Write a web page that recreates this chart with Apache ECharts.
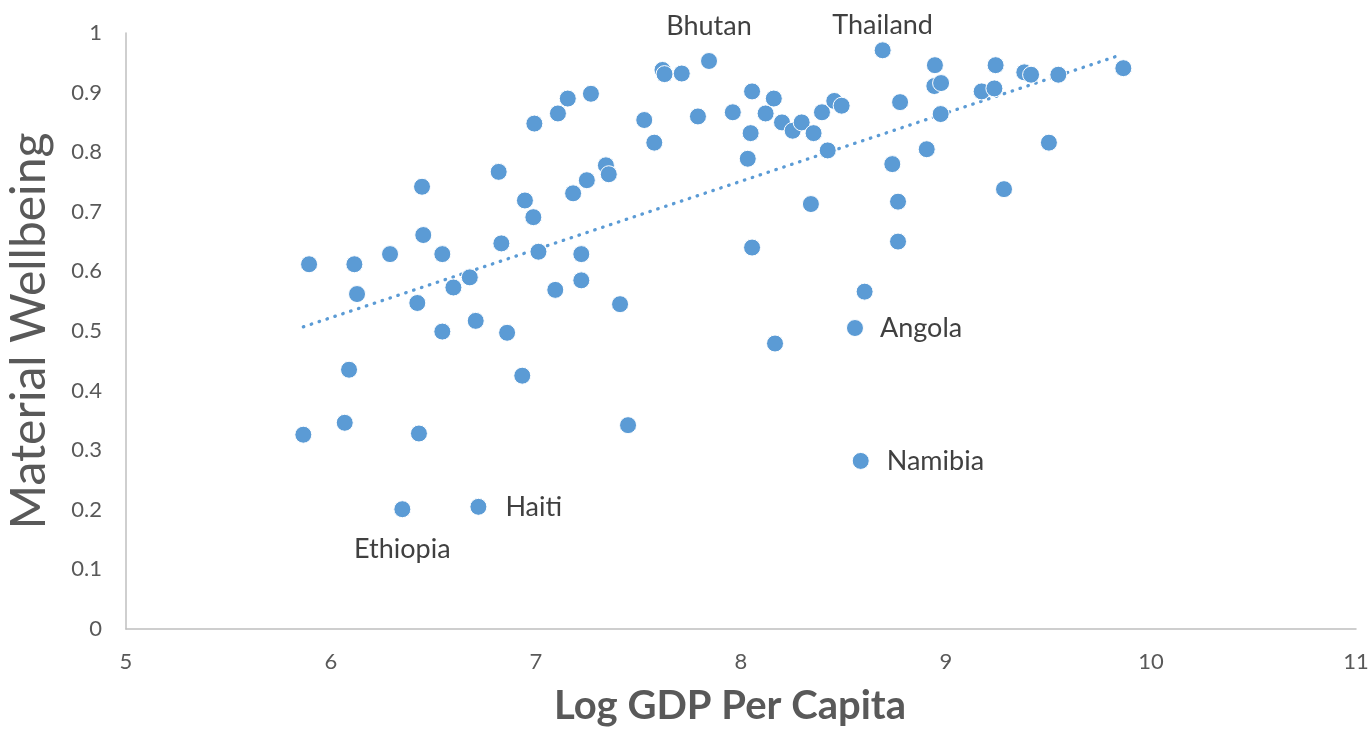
<!DOCTYPE html>
<html>
<head>
<meta charset="utf-8">
<script src="https://cdn.jsdelivr.net/npm/echarts@6/dist/echarts.min.js"></script>
<style>
html,body{margin:0;padding:0;background:#fff;overflow:hidden;}
#chart{width:1372px;height:729px;}
</style>
</head>
<body>
<div id="chart"></div>
<script>
// Log GDP per capita (x) and material wellbeing (y) for each country point
const logGdp = [
  5.865, 5.893, 6.067, 6.088, 6.114, 6.127, 6.288, 6.348, 6.421, 6.429,
  6.444, 6.450, 6.543, 6.543, 6.597, 6.677, 6.706, 6.719, 6.818, 6.831,
  6.859, 6.933, 6.946, 6.987, 6.992, 7.012, 7.094, 7.107, 7.155, 7.181,
  7.221, 7.221, 7.248, 7.268, 7.341, 7.355, 7.410, 7.449, 7.528, 7.577,
  7.617, 7.627, 7.711, 7.790, 7.844, 7.960, 8.033, 8.047, 8.054, 8.054,
  8.120, 8.160, 8.166, 8.200, 8.252, 8.296, 8.341, 8.354, 8.395, 8.423,
  8.455, 8.491, 8.556, 8.584, 8.603, 8.691, 8.738, 8.766, 8.766, 8.776,
  8.906, 8.946, 8.943, 8.976, 8.974, 9.174, 9.236, 9.242, 9.283, 9.382,
  9.415, 9.502, 9.548, 9.865
];
const wellbeing = [
  0.326, 0.612, 0.346, 0.435, 0.612, 0.562, 0.629, 0.201, 0.547, 0.328,
  0.742, 0.661, 0.499, 0.629, 0.573, 0.590, 0.517, 0.205, 0.767, 0.647,
  0.497, 0.425, 0.719, 0.691, 0.848, 0.633, 0.569, 0.865, 0.890, 0.731,
  0.629, 0.585, 0.753, 0.898, 0.778, 0.763, 0.545, 0.342, 0.854, 0.816,
  0.938, 0.931, 0.932, 0.860, 0.953, 0.867, 0.789, 0.832, 0.902, 0.640,
  0.865, 0.890, 0.479, 0.850, 0.836, 0.850, 0.713, 0.832, 0.867, 0.803,
  0.886, 0.878, 0.505, 0.282, 0.566, 0.971, 0.780, 0.650, 0.717, 0.884,
  0.805, 0.946, 0.911, 0.916, 0.864, 0.902, 0.907, 0.946, 0.738, 0.934,
  0.930, 0.816, 0.930, 0.941
];
// Named countries: index into the arrays above
const labelledNames = ['Ethiopia', 'Haiti', 'Bhutan', 'Angola', 'Namibia', 'Thailand'];
const labelledIndex = [7, 17, 44, 62, 63, 65];
// Linear trendline end points (x, y)
const trendX = [5.865, 9.850];
const trendY = [0.507, 0.963];
// Axis ranges
const xRange = [5, 11, 1];
const yRange = [0, 1, 0.1];

const labelStyle = {
  Ethiopia: {position: 'bottom', distance: 18},
  Haiti:    {position: 'right',  distance: 18},
  Bhutan:   {position: 'top',    distance: 12},
  Angola:   {position: 'right',  distance: 16},
  Namibia:  {position: 'right',  distance: 17},
  Thailand: {position: 'top',    distance: 2}
};

const pts = logGdp.map((x, i) => {
  const k = labelledIndex.indexOf(i);
  const item = {value: [x, wellbeing[i]]};
  if (k >= 0) {
    const nm = labelledNames[k];
    item.name = nm;
    item.label = Object.assign({show: true, formatter: nm}, labelStyle[nm]);
  }
  return item;
});

const chart = echarts.init(document.getElementById('chart'), null, {renderer: 'canvas'});
const font = 'Lato, "Open Sans", sans-serif';
chart.setOption({
  animation: false,
  backgroundColor: '#ffffff',
  grid: {left: 126, right: 16, top: 33, bottom: 100, containLabel: false, outerBoundsMode: 'none'},
  xAxis: {
    type: 'value', min: xRange[0], max: xRange[1], interval: xRange[2],
    name: 'Log GDP Per Capita', nameLocation: 'middle', nameGap: 57,
    nameTextStyle: {fontFamily: font, fontSize: 40, fontWeight: 'bold', color: '#595959',
      padding: [0, 22, 0, 0]},
    axisLine: {show: true, lineStyle: {color: '#bfbfbf', width: 1.5}},
    axisTick: {show: false},
    splitLine: {show: false},
    axisLabel: {fontFamily: font, fontSize: 22, color: '#595959', margin: 22}
  },
  yAxis: {
    type: 'value', min: yRange[0], max: yRange[1], interval: yRange[2],
    name: 'Material Wellbeing', nameLocation: 'middle', nameGap: 72, nameRotate: 90,
    nameTextStyle: {fontFamily: font, fontSize: 48, color: '#595959'},
    axisLine: {show: true, lineStyle: {color: '#bfbfbf', width: 1.5}},
    axisTick: {show: false},
    splitLine: {show: false},
    axisLabel: {fontFamily: font, fontSize: 22, color: '#595959', margin: 24,
      formatter: v => String(Math.round(v * 10) / 10)}
  },
  series: [
    {
      type: 'line',
      data: trendX.map((x, i) => [x, trendY[i]]),
      symbol: 'none',
      lineStyle: {color: '#5b9bd5', width: 3.3, type: [0.5, 7.8], cap: 'round'},
      z: 1,
      silent: true
    },
    {
      type: 'scatter',
      data: pts,
      symbol: 'circle',
      symbolSize: 17,
      itemStyle: {color: '#5b9bd5', borderColor: '#ffffff', borderWidth: 1, opacity: 1},
      label: {show: false, fontFamily: font, fontSize: 27, color: '#404040'},
      z: 2
    }
  ]
});
</script>
</body>
</html>
